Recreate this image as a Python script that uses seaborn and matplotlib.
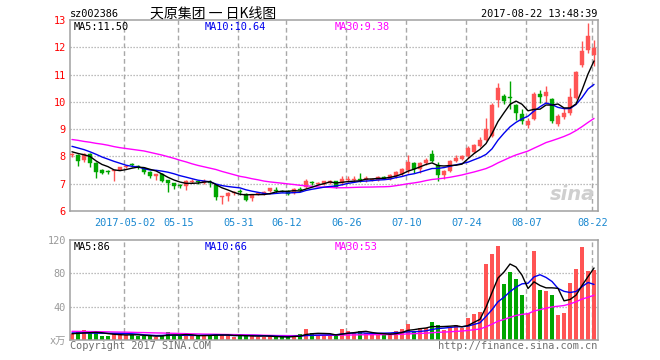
import numpy as np
import pandas as pd
import matplotlib
matplotlib.use("Agg")
import matplotlib.pyplot as plt
import seaborn as sns

# ---------------- data ----------------
opens = [8.05, 8.06, 7.88, 8.09, 7.76, 7.51, 7.46, 7.45, 7.51, 7.60,
         7.69, 7.65, 7.56, 7.44, 7.29, 7.37, 7.12, 7.02, 6.96, 6.90,
         7.08, 7.10, 7.01, 7.07, 6.94, 6.50, 6.54, 6.65, 6.74, 6.64,
         6.47, 6.63, 6.62, 6.72, 6.76, 6.74, 6.74, 6.67, 6.80, 6.89,
         7.05, 6.99, 6.99, 7.01, 7.09, 7.01, 7.14, 7.14, 7.18, 7.13,
         7.15, 7.13, 7.26, 7.18, 7.28, 7.36, 7.50, 7.75, 7.53, 7.75,
         8.10, 7.70, 7.31, 7.48, 7.85, 7.92, 8.01, 8.16, 8.38, 8.60,
         8.75, 10.05, 10.20, 10.17, 9.88, 9.55, 9.15, 9.38, 10.28, 10.22,
         10.10, 9.18, 9.45, 9.58, 10.15, 11.35, 11.90, 11.70]
highs = [8.14, 8.08, 8.12, 8.12, 7.78, 7.55, 7.49, 7.52, 7.63, 7.68,
         7.76, 7.69, 7.61, 7.46, 7.36, 7.40, 7.14, 7.04, 7.00, 7.12,
         7.16, 7.15, 7.16, 7.14, 6.97, 6.55, 6.70, 6.74, 6.79, 6.66,
         6.60, 6.69, 6.72, 6.86, 6.89, 6.77, 6.76, 6.86, 6.89, 7.16,
         7.09, 7.07, 7.10, 7.12, 7.10, 7.28, 7.28, 7.27, 7.38, 7.28,
         7.22, 7.28, 7.30, 7.35, 7.48, 7.57, 8.05, 7.80, 7.80, 7.95,
         8.22, 7.78, 7.52, 7.86, 8.05, 8.06, 8.37, 8.45, 8.70, 9.42,
         9.95, 10.68, 10.30, 10.78, 9.92, 9.73, 9.40, 10.37, 10.42, 10.58,
         10.13, 9.57, 9.76, 10.50, 11.12, 12.22, 12.90, 12.25]
lows = [7.98, 7.66, 7.80, 7.61, 7.22, 7.37, 7.37, 7.11, 7.50, 7.58,
        7.61, 7.54, 7.37, 7.22, 7.12, 7.05, 6.71, 6.80, 6.83, 6.78,
        7.02, 7.00, 6.99, 6.89, 6.40, 6.25, 6.35, 6.60, 6.60, 6.35,
        6.35, 6.57, 6.60, 6.70, 6.67, 6.68, 6.60, 6.64, 6.72, 6.84,
        6.97, 6.94, 6.97, 6.98, 6.86, 6.96, 7.08, 7.07, 7.06, 7.08,
        7.10, 7.10, 7.16, 7.12, 7.21, 7.30, 7.41, 7.38, 7.38, 7.70,
        7.78, 7.11, 7.19, 7.43, 7.78, 7.87, 7.96, 8.12, 8.33, 8.55,
        8.70, 9.80, 9.92, 9.72, 9.35, 9.18, 9.05, 9.33, 9.95, 9.97,
        9.23, 9.13, 9.38, 9.52, 10.12, 11.26, 11.80, 11.30]
closes = [8.07, 7.83, 8.09, 7.76, 7.44, 7.41, 7.43, 7.50, 7.61, 7.64,
          7.67, 7.62, 7.42, 7.29, 7.34, 7.10, 7.02, 6.93, 6.92, 7.10,
          7.10, 7.07, 7.11, 7.02, 6.52, 6.53, 6.67, 6.67, 6.68, 6.40,
          6.59, 6.66, 6.69, 6.84, 6.72, 6.71, 6.64, 6.82, 6.77, 7.09,
          7.03, 7.03, 7.09, 7.09, 6.89, 7.16, 7.16, 7.17, 7.15, 7.20,
          7.19, 7.26, 7.19, 7.33, 7.43, 7.55, 7.80, 7.55, 7.75, 7.88,
          7.83, 7.31, 7.48, 7.83, 7.94, 8.03, 8.30, 8.42, 8.60, 9.00,
          9.88, 10.50, 10.03, 10.14, 9.59, 9.30, 9.30, 10.30, 10.17, 10.35,
          9.29, 9.50, 9.58, 10.16, 11.08, 11.85, 12.43, 11.98]
volumes = [7.2, 10, 12, 8.8, 8, 4.8, 4.8, 8, 6.4, 6.4,
           5.6, 4.8, 4.8, 4.8, 3.2, 6.4, 9.6, 6.4, 4.8, 5.6,
           4.8, 4.8, 6.4, 5.6, 7.2, 5.6, 5.6, 3.2, 5.6, 5.6,
           4.8, 4, 4, 4.8, 3.2, 3.2, 3.2, 6.4, 7.2, 12.8,
           8, 5.6, 5.6, 6, 5, 13, 11, 9, 11, 8,
           6, 6, 7, 8, 11, 13, 19, 11, 14, 15,
           22, 18, 12, 16, 18, 15, 26, 31, 34, 91,
           103, 113, 67, 82, 73, 54, 33, 107, 60, 59,
           54, 30, 32, 68, 85, 112, 83, 84]

# moving-average values at the start of the window (read from the picture,
# the earlier sessions are not shown)
ma5_lead = [8.17, 8.11, 8.06, 8.00]
ma10_lead = [8.37, 8.31, 8.25, 8.17, 8.08, 7.98, 7.90, 7.82, 7.75]
ma30_lead = [8.62, 8.59, 8.55, 8.52, 8.48, 8.45, 8.41, 8.36, 8.32, 8.29,
             8.26, 8.23, 8.20, 8.15, 8.10, 8.05, 7.99, 7.93, 7.86, 7.80,
             7.73, 7.67, 7.62, 7.57, 7.52, 7.45, 7.39, 7.33, 7.27]
vma5_lead = [7.5, 8.0, 8.5, 8.8]
vma10_lead = [8.5, 8.5, 8.4, 8.3, 8.2, 8.1, 8.0, 7.9, 7.8]
vma30_lead = [10.4, 10.3, 10.2, 10.1, 10.0, 9.9, 9.8, 9.6, 9.5, 9.4,
              9.2, 9.0, 8.9, 8.7, 8.5, 8.4, 8.2, 8.0, 7.8, 7.6,
              7.4, 7.3, 7.1, 7.0, 6.9, 6.7, 6.6, 6.5, 6.4]

# values printed in the legends of the reference
price_ma_text = ["MA5:11.50", "MA10:10.64", "MA30:9.38"]
vol_ma_text = ["MA5:86", "MA10:66", "MA30:53"]

tick_dates = ["2017-05-02", "2017-05-15", "2017-05-31", "2017-06-12",
              "2017-06-26", "2017-07-10", "2017-07-24", "2017-08-07",
              "2017-08-22"]
tick_labels = ["2017-05-02", "05-15", "05-31", "06-12", "06-26",
               "07-10", "07-24", "08-07", "08-22"]
price_ticks = [6, 7, 8, 9, 10, 11, 12, 13]
vol_ticks = [40, 80, 120]
holidays = ["2017-05-01", "2017-05-29", "2017-05-30"]

# ---------------- derived ----------------
days = pd.bdate_range("2017-04-18", "2017-08-22")
days = days[~days.isin(pd.to_datetime(holidays))]
idx = np.arange(len(days))
df = pd.DataFrame({"date": days, "x": idx, "open": opens, "high": highs,
                   "low": lows, "close": closes, "vol": volumes})


def moving(values, n, lead):
    s = pd.Series(values, dtype=float).rolling(n).mean().to_numpy()
    s[:len(lead)] = lead
    return s


df["ma5"] = moving(closes, 5, ma5_lead)
df["ma10"] = moving(closes, 10, ma10_lead)
df["ma30"] = moving(closes, 30, ma30_lead)
df["vma5"] = moving(volumes, 5, vma5_lead)
df["vma10"] = moving(volumes, 10, vma10_lead)
df["vma30"] = moving(volumes, 30, vma30_lead)

RED = "#ff5454"
GREEN = "#00a600"
up = df["close"] >= df["open"]
colors = np.where(up, RED, GREEN)

# ---------------- style ----------------
sns.set_style("white")
plt.rcParams["font.family"] = ["DejaVu Sans Mono", "Noto Sans CJK SC"]
plt.rcParams["axes.linewidth"] = 1.0

W, H = 660, 360
fig = plt.figure(figsize=(W / 100, H / 100), dpi=100)
fig.patch.set_facecolor("white")


def fx(px):
    return px / W


def fy(py):
    return 1 - py / H


L, R = 70, 597.5
ax = fig.add_axes([fx(L), fy(211), (R - L) / W, (211 - 20) / H])
axv = fig.add_axes([fx(L), fy(340), (R - L) / W, (340 - 240) / H])

FRAME = "#a0a0a0"
GRID = "#a8a8a8"
xlo, xhi = -0.33, 87.58
tick_pos = [int(np.where(days == pd.Timestamp(d))[0][0]) - 0.27 for d in tick_dates]

for a in (ax, axv):
    a.set_facecolor("white")
    for s in a.spines.values():
        s.set_visible(True)
        s.set_color(FRAME)
        s.set_linewidth(1.1)
    a.set_xlim(xlo, xhi)
    a.tick_params(length=0)
    for p in tick_pos:
        a.axvline(p, color=GRID, lw=1.0, ls=(0, (3.4, 2.2)), zorder=0)

# ---------------- price panel ----------------
ax.set_ylim(6, 13)
for v in price_ticks[1:-1]:
    ax.axhline(v, color=GRID, lw=0.9, ls=(0, (1, 1.4)), zorder=0)

body_low = np.minimum(df["open"], df["close"])
body_h = np.maximum(np.abs(df["close"] - df["open"]), 0.035)
ax.vlines(df["x"], df["low"], df["high"], colors=colors, lw=1.0, zorder=2)
ax.bar(df["x"], body_h, bottom=body_low, width=0.8, color=colors,
       edgecolor=colors, linewidth=0.3, zorder=3)

sns.lineplot(data=df, x="x", y="ma30", color="#ff00ff", lw=1.0, ax=ax, zorder=4)
sns.lineplot(data=df, x="x", y="ma10", color="#0000ee", lw=1.0, ax=ax, zorder=5)
sns.lineplot(data=df, x="x", y="ma5", color="black", lw=1.0, ax=ax, zorder=6)
ax.set_xlabel("")
ax.set_ylabel("")
ax.set_yticks(price_ticks)
ax.set_yticklabels([str(v) for v in price_ticks], color="#ff0000", fontsize=7.4)
ax.tick_params(axis="y", pad=3)
ax.set_xticks(tick_pos)
ax.set_xticklabels(tick_labels, color="#1a88d0", fontsize=7.4)
ax.tick_params(axis="x", pad=5)

# watermark
ax.text(0.995, 0.035, "sina", transform=ax.transAxes, ha="right", va="bottom",
        fontsize=14, fontstyle="italic", fontweight="bold", color="#cfcfcf",
        family="DejaVu Sans", zorder=1)

# ---------------- volume panel ----------------
axv.set_ylim(0, 120)
for v in vol_ticks[:-1]:
    axv.axhline(v, color=GRID, lw=0.9, ls=(0, (1, 1.4)), zorder=0)
axv.bar(df["x"], df["vol"], width=0.8, color=colors, linewidth=0, zorder=2)
sns.lineplot(data=df, x="x", y="vma30", color="#ff00ff", lw=1.0, ax=axv, zorder=4)
sns.lineplot(data=df, x="x", y="vma10", color="#0000ee", lw=1.0, ax=axv, zorder=5)
sns.lineplot(data=df, x="x", y="vma5", color="black", lw=1.0, ax=axv, zorder=6)
axv.set_xlabel("")
axv.set_ylabel("")
axv.set_xticks(tick_pos)
axv.set_xticklabels([])
axv.set_yticks([0] + vol_ticks)
axv.set_yticklabels(["x万"] + [str(v) for v in vol_ticks], color="#999999",
                    fontsize=7.4)
axv.tick_params(axis="y", pad=3)

# ---------------- texts ----------------
mono = dict(fontsize=7.4, family=["DejaVu Sans Mono", "Noto Sans CJK SC"])
fig.text(fx(70), fy(17), "sz002386", ha="left", va="baseline", color="black", **mono)
fig.text(fx(213), fy(17.5), "天原集团 一 日K线图", ha="center", va="baseline",
         color="black", fontsize=10, family=["Noto Sans CJK SC", "DejaVu Sans"])
fig.text(fx(597), fy(17), "2017-08-22 13:48:39", ha="right", va="baseline",
         color="black", **mono)

ma_colors = ["black", "#0000ee", "#ff00ff"]
ma_x = [74, 205, 335]
for t, c, x in zip(price_ma_text, ma_colors, ma_x):
    fig.text(fx(x), fy(30), t, ha="left", va="baseline", color=c, **mono)
for t, c, x in zip(vol_ma_text, ma_colors, ma_x):
    fig.text(fx(x), fy(250), t, ha="left", va="baseline", color=c, **mono)

fig.text(fx(70), fy(349), "Copyright 2017 SINA.COM", ha="left", va="baseline",
         color="#707070", **mono)
fig.text(fx(597), fy(349), "http://finance.sina.com.cn", ha="right",
         va="baseline", color="#707070", **mono)

fig.savefig("out.png", dpi=100, facecolor="white")
